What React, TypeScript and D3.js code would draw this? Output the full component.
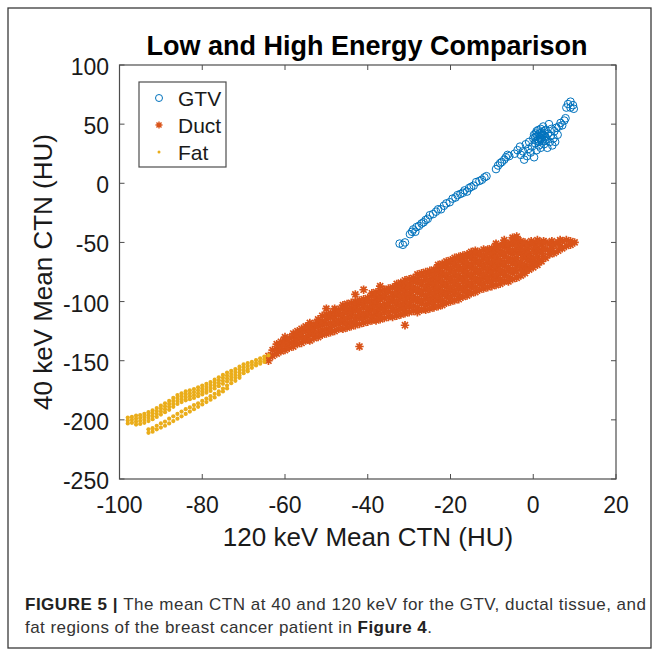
import React from 'react';
import * as d3 from 'd3';

// values
const title = 'Low and High Energy Comparison';
const xLabel = '120 keV Mean CTN (HU)';
const yLabel = '40 keV Mean CTN (HU)';
const xTicks = [-100, -80, -60, -40, -20, 0, 20];
const yTicks = [-250, -200, -150, -100, -50, 0, 50, 100];
const seriesNames = ['GTV', 'Duct', 'Fat'];
const seriesColors = ['#0072BD', '#D95319', '#EAAD1A'];

// GTV: [120 keV, 40 keV]
const gtvPoints: [number, number][] = [
  [-32.3, -51], [-31.5, -52], [-31, -50],
  [-29.8, -43], [-29.3, -41], [-29, -39], [-28.5, -41], [-28.2, -37], [-27.6, -36], [-27, -34],
  [-26.5, -33], [-26, -31], [-25.5, -30], [-25, -27], [-24.2, -26], [-23.5, -24], [-23, -22],
  [-22.3, -22], [-21.6, -19], [-21, -17], [-20.2, -16], [-19.5, -13], [-18.8, -12], [-18.3, -10],
  [-17.6, -9], [-17, -8], [-16.6, -6], [-16, -7], [-15.5, -4], [-15, -3], [-14.4, -2], [-13.8, 1],
  [-13, 2], [-12.4, 3], [-11.8, 5], [-11.3, 6],
  [-9, 12], [-8.5, 15], [-8, 17], [-7.6, 18], [-7, 20], [-6.6, 22], [-6.2, 24], [-5.8, 23],
  [-4.5, 25], [-3.8, 28], [-3.2, 31], [-3, 24], [-2.5, 27], [-2.2, 20], [-1.8, 33], [-1.5, 23],
  [-1.2, 29], [-1, 35], [-0.6, 26], [-0.3, 31], [0, 38], [0.2, 22], [0.4, 34], [0.6, 42], [0.8, 28],
  [1, 36], [1.2, 45], [1.4, 32], [1.6, 39], [1.8, 30], [2, 43], [2.2, 36], [2.4, 48], [2.6, 33],
  [2.8, 40], [3, 45], [3.2, 37], [3.4, 30], [3.6, 42], [3.8, 50], [4, 35], [4.2, 40], [4.4, 46],
  [4.6, 32], [4.9, 38], [5.1, 44], [5.3, 35], [5.6, 47], [5.9, 41], [6.2, 48], [6.6, 51], [7, 49],
  [7.5, 53], [7.8, 55],
  [1, 40], [1.5, 42], [2, 38], [2.5, 41], [1.2, 37], [0.5, 39], [2.8, 36], [3, 39], [0.8, 44],
  [1.8, 46], [2.2, 41], [1.4, 35], [0.2, 41], [1.8, 37], [2.6, 44],
  [8, 64], [8.4, 67], [9, 69], [9.6, 66], [9.8, 63], [9, 64],
];

// Duct: each column is [120 keV, list of 40 keV values]
const ductCols: [number, number[]][] = [
  [-64, [-150, -146]],
  [-63, [-146, -141]],
  [-62, [-144, -140, -136]],
  [-61, [-142, -138, -134]],
  [-60, [-141, -137, -133, -130]],
  [-59, [-139, -135, -131]],
  [-58, [-138, -134, -130, -127]],
  [-57, [-136, -132, -128, -125]],
  [-56, [-135, -131, -127, -123]],
  [-55, [-133, -130, -125, -121]],
  [-54, [-133, -128, -125, -121, -118]],
  [-53, [-131, -127, -123, -119]],
  [-52, [-130, -126, -121, -118, -115]],
  [-51, [-128, -124, -120, -117, -112]],
  [-50, [-127, -123, -119, -115, -111, -106]],
  [-49, [-126, -122, -118, -113, -110]],
  [-48, [-125, -120, -117, -113, -109, -106]],
  [-47, [-123, -119, -116, -111, -107]],
  [-46, [-123, -118, -115, -111, -106, -103]],
  [-45, [-122, -118, -114, -109, -106, -102]],
  [-44, [-121, -117, -112, -109, -105, -101]],
  [-43, [-120, -116, -112, -107, -104, -100, -94]],
  [-42, [-138, -119, -114, -111, -107, -102, -99]],
  [-41, [-118, -114, -110, -105, -102, -98, -90]],
  [-40, [-117, -112, -109, -105, -100, -97]],
  [-39, [-116, -112, -107, -104, -100, -95, -93]],
  [-38, [-116, -111, -108, -103, -100, -96, -92]],
  [-37, [-115, -111, -106, -103, -98, -95, -91, -87]],
  [-36, [-114, -109, -106, -102, -97, -94, -90]],
  [-35, [-113, -109, -104, -101, -97, -92, -89]],
  [-34, [-113, -108, -105, -100, -97, -93, -88]],
  [-33, [-112, -108, -103, -100, -95, -92, -88, -85]],
  [-32, [-111, -106, -103, -98, -95, -90, -87, -84]],
  [-31, [-120, -110, -106, -101, -98, -93, -90, -86, -82]],
  [-30, [-109, -104, -101, -96, -93, -88, -85, -81]],
  [-29, [-108, -104, -99, -96, -91, -88, -83, -80]],
  [-28, [-109, -105, -100, -97, -92, -89, -84, -81, -77]],
  [-27, [-107, -102, -99, -94, -91, -86, -83, -78, -76]],
  [-26, [-107, -103, -98, -95, -90, -87, -82, -79, -75]],
  [-25, [-106, -101, -98, -93, -90, -85, -82, -77, -74]],
  [-24, [-105, -101, -96, -93, -88, -85, -80, -77, -73]],
  [-23, [-104, -99, -96, -91, -88, -83, -80, -75, -72, -69]],
  [-22, [-103, -99, -94, -91, -86, -83, -78, -75, -70, -68]],
  [-21, [-101, -96, -93, -88, -85, -80, -77, -72, -69, -66]],
  [-20, [-100, -96, -91, -88, -83, -80, -75, -72, -67, -65]],
  [-19, [-99, -94, -91, -86, -83, -78, -75, -70, -67, -63]],
  [-18, [-98, -94, -89, -86, -81, -78, -73, -70, -65, -62]],
  [-17, [-96, -91, -88, -83, -80, -75, -72, -67, -64, -61]],
  [-16, [-95, -91, -86, -83, -78, -75, -70, -67, -62, -60]],
  [-15, [-93, -88, -85, -80, -77, -72, -69, -64, -61, -58]],
  [-14, [-92, -88, -83, -80, -75, -72, -67, -64, -60, -57]],
  [-13, [-90, -85, -82, -77, -74, -69, -66, -61, -58]],
  [-12, [-89, -85, -80, -77, -72, -69, -64, -61, -56]],
  [-11, [-88, -83, -80, -75, -72, -67, -64, -59, -56]],
  [-10, [-87, -83, -78, -75, -70, -67, -62, -59, -55]],
  [-9, [-86, -81, -78, -73, -70, -65, -62, -57, -54, -51]],
  [-8, [-85, -81, -76, -73, -68, -65, -60, -57, -53]],
  [-7, [-83, -78, -75, -70, -67, -62, -59, -54, -51, -48]],
  [-6, [-83, -79, -74, -71, -66, -63, -58, -55, -51]],
  [-5, [-81, -76, -73, -68, -65, -60, -57, -52, -49, -46]],
  [-4, [-80, -75, -71, -67, -63, -59, -55, -51, -48, -45]],
  [-3, [-78, -71, -67, -59, -55, -49]],
  [-2.5, [-74, -63, -52]],
  [-2, [-76, -69, -61, -57, -50]],
  [-1.5, [-72, -64, -55]],
  [-1, [-73, -66, -59, -52]],
  [-0.5, [-69, -62, -49]],
  [0, [-71, -64, -56, -51]],
  [0.5, [-67, -59, -53]],
  [1, [-69, -62, -55, -48]],
  [1.5, [-65, -57, -50]],
  [2, [-66, -59, -52]],
  [2.5, [-62, -55, -49]],
  [3, [-63, -56, -50]],
  [4, [-60, -57, -51]],
  [4.5, [-55, -49]],
  [5, [-59, -52]],
  [6, [-57, -50]],
  [6.5, [-53, -48]],
  [7, [-55, -49]],
  [8, [-53, -48]],
  [9, [-52, -49]],
  [10, [-50]],
];

// Fat: each column is [120 keV, list of 40 keV values]
const fatCols: [number, number[]][] = [
  [-98, [-198, -200.5, -203]],
  [-97, [-197.5, -200, -202.5]],
  [-96, [-196.5, -199, -201.5, -204]],
  [-95, [-196, -198.5, -201, -203.5]],
  [-94, [-195, -197.5, -200, -202.5]],
  [-93, [-193.5, -196, -198.5, -201, -208, -211]],
  [-92, [-192, -194.5, -197, -199.5, -207, -210]],
  [-91, [-190, -192.5, -195, -197.5, -205, -208]],
  [-90, [-188, -190.5, -193, -195.5, -203, -206.5]],
  [-89, [-186, -188.5, -191, -193.5, -201.5, -205]],
  [-88, [-184, -186.5, -189, -191.5, -199, -203]],
  [-87, [-181.5, -184, -186.5, -189, -197, -201]],
  [-86, [-179, -181.5, -184, -186.5, -195, -199]],
  [-85, [-177.5, -180, -182.5, -185, -193, -197]],
  [-84, [-176, -178.5, -181, -183.5, -191, -195]],
  [-83, [-175, -177.5, -180, -182.5, -189.5, -193]],
  [-82, [-174, -176.5, -179, -181.5, -187.5, -191]],
  [-81, [-172.5, -175, -177.5, -180, -186, -189]],
  [-80, [-171, -173.5, -176, -178.5, -184, -187]],
  [-79, [-169.5, -172, -174.5, -177, -182, -185]],
  [-78, [-168, -170.5, -173, -175.5, -180, -183]],
  [-77, [-166, -168.5, -171, -173.5, -178, -181]],
  [-76, [-164, -166.5, -169, -171.5, -176, -178.5]],
  [-75, [-162, -164.5, -167, -169.5, -173.5, -176]],
  [-74, [-160, -162.5, -165, -167.5, -171, -173.5]],
  [-73, [-158.5, -161, -163.5, -166, -169]],
  [-72, [-157, -159.5, -162, -164.5, -167]],
  [-71, [-155, -157.5, -160, -162.5, -164.5]],
  [-70, [-153, -155.5, -158, -160.5]],
  [-69, [-152, -154.5, -157, -159]],
  [-68, [-151, -153.5, -156]],
  [-67, [-149.5, -152, -154]],
  [-66, [-148, -150.5, -152.5]],
  [-65, [-146.5, -149, -151]],
  [-64, [-145.5]],
];

const flatten = (cols: [number, number[]][]) =>
  cols.flatMap(([x, ys]) => ys.map((y) => [x, y] as [number, number]));

const ductPoints = flatten(ductCols);
const fatPoints = flatten(fatCols);

const W = 659;
const H = 654;
const plot = { left: 119.5, right: 616, top: 65, bottom: 479 };

const asterisk = (r: number) => {
  const k = r * 0.72;
  return `M${-r},0L${r},0M0,${-r}L0,${r}M${-k},${-k}L${k},${k}M${-k},${k}L${k},${-k}`;
};

export default function App() {
  const x = d3.scaleLinear().domain([-100, 20]).range([plot.left, plot.right]);
  const y = d3.scaleLinear().domain([-250, 100]).range([plot.bottom, plot.top]);
  const axisColor = '#4d4d4d';
  const textColor = '#1a1a1a';
  const font = 'Liberation Sans, Arial, Helvetica, sans-serif';
  const tl = 5;

  const legendY = [98, 125, 152];

  return (
    <svg width={W} height={H} style={{ position: 'absolute', left: 0, top: 0, background: '#fff' }} fontFamily={font}>
      <rect x={8} y={8} width={643} height={640} fill="#fff" stroke="#3a3a3a" strokeWidth={1.3} />

      <text x={367} y={55} textAnchor="middle" fontSize={27} fontWeight="bold" fill="#000">{title}</text>

      {/* data */}
      <g>
        {gtvPoints.map(([a, b], i) => (
          <circle key={'g' + i} cx={x(a)} cy={y(b)} r={3.8} fill="none" stroke={seriesColors[0]} strokeWidth={1} />
        ))}
        {ductPoints.map(([a, b], i) => (
          <path key={'d' + i} d={asterisk(4.2)} transform={`translate(${x(a)},${y(b)})`} stroke={seriesColors[1]} strokeWidth={1.7} fill="none" />
        ))}
        {fatPoints.map(([a, b], i) => (
          <circle key={'f' + i} cx={x(a)} cy={y(b)} r={2.1} fill={seriesColors[2]} />
        ))}
      </g>

      {/* axes box */}
      <rect x={plot.left} y={plot.top} width={plot.right - plot.left} height={plot.bottom - plot.top} fill="none" stroke={axisColor} strokeWidth={1.2} />
      {xTicks.map((t) => (
        <g key={'xt' + t}>
          <line x1={x(t)} x2={x(t)} y1={plot.bottom} y2={plot.bottom - tl} stroke={axisColor} />
          <line x1={x(t)} x2={x(t)} y1={plot.top} y2={plot.top + tl} stroke={axisColor} />
          <text x={x(t)} y={513} textAnchor="middle" fontSize={23} fill={textColor}>{t}</text>
        </g>
      ))}
      {yTicks.map((t) => (
        <g key={'yt' + t}>
          <line x1={plot.left} x2={plot.left + tl} y1={y(t)} y2={y(t)} stroke={axisColor} />
          <line x1={plot.right} x2={plot.right - tl} y1={y(t)} y2={y(t)} stroke={axisColor} />
          <text x={109} y={y(t) + 10} textAnchor="end" fontSize={23} fill={textColor}>{t}</text>
        </g>
      ))}

      <text x={368} y={546} textAnchor="middle" fontSize={26} fill={textColor}>{xLabel}</text>
      <text transform={`translate(52,${(plot.top + plot.bottom) / 2}) rotate(-90)`} textAnchor="middle" fontSize={26} fill={textColor}>{yLabel}</text>

      {/* legend */}
      <rect x={139} y={82} width={87} height={85} fill="#fff" stroke={axisColor} strokeWidth={1.2} />
      {seriesNames.map((name, i) => (
        <g key={name}>
          {i === 0 && <circle cx={159} cy={legendY[i]} r={3.5} fill="none" stroke={seriesColors[0]} strokeWidth={1} />}
          {i === 1 && <path d={asterisk(3.5)} transform={`translate(159,${legendY[i]})`} stroke={seriesColors[1]} strokeWidth={1.4} fill="none" />}
          {i === 2 && <circle cx={159} cy={legendY[i]} r={1.5} fill={seriesColors[2]} />}
          <text x={178} y={legendY[i] + 7.5} fontSize={21} fill={textColor}>{name}</text>
        </g>
      ))}

      {/* caption */}
      <text x={25} y={610} fontSize={17} fill="#333" textLength={621} lengthAdjust="spacing">
        <tspan fontWeight="bold" fill="#222">FIGURE 5 | </tspan>
        <tspan>The mean CTN at 40 and 120 keV for the GTV, ductal tissue, and</tspan>
      </text>
      <text x={25} y={633} fontSize={17} fill="#333" textLength={407} lengthAdjust="spacing">
        <tspan>fat regions of the breast cancer patient in </tspan>
        <tspan fontWeight="bold" fill="#222">Figure 4</tspan>
        <tspan>.</tspan>
      </text>
    </svg>
  );
}
